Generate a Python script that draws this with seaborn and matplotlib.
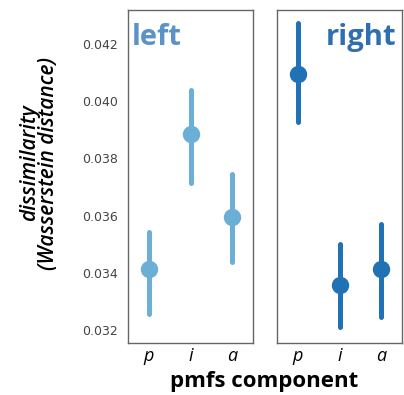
import matplotlib
matplotlib.use("Agg")
import matplotlib.pyplot as plt
import seaborn as sns
import pandas as pd

components = ["p", "i", "a"]
# (lower, center, upper) for each component
left_low = [0.03257, 0.03716, 0.03438]
left_mid = [0.03414, 0.03884, 0.03597]
left_high = [0.03543, 0.04041, 0.03746]
right_low = [0.03928, 0.03212, 0.03246]
right_mid = [0.04095, 0.03358, 0.03414]
right_high = [0.04273, 0.03501, 0.03571]

sns.set_style("white")
plt.rcParams["text.color"] = "black"

def make_df(low, mid, high):
    rows = []
    for c, l, m, h in zip(components, low, mid, high):
        for v in (l, m, h):
            rows.append({"component": c, "value": v})
    return pd.DataFrame(rows)

fig = plt.figure(figsize=(4.04, 3.95), dpi=100)
axL = fig.add_axes([128/404, 1-343/395, 125/404, 333/395])
axR = fig.add_axes([277/404, 1-343/395, 125/404, 333/395], sharey=axL)

specs = [(axL, make_df(left_low, left_mid, left_high), "#6baed6", "left", "#5b93c8"),
         (axR, make_df(right_low, right_mid, right_high), "#2171b5", "right", "#2f6fb0")]
for ax, df, col, title, tcol in specs:
    sns.pointplot(data=df, x="component", y="value", order=components,
                  estimator="median", errorbar=("pi", 100), color=col,
                  linestyle="none", markersize=10.5, err_kws={"linewidth": 3.6},
                  ax=ax)
    ax.set_xlabel("")
    ax.set_ylabel("")
    ax.set_xlim(-0.5, 2.5)
    for s in ax.spines.values():
        s.set_color("#666666")
        s.set_linewidth(1.0)
    ax.tick_params(axis="x", length=0, pad=3, labelcolor="black")
    ax.tick_params(axis="y", length=0)
    for t in ax.get_xticklabels():
        t.set_fontstyle("italic")
        t.set_fontfamily("Open Sans")
        t.set_fontsize(13)
    if title == "left":
        ax.text(0.03, 0.96, title, transform=ax.transAxes, ha="left", va="top",
                fontsize=21, fontweight="bold", color=tcol, family="Open Sans")
    else:
        ax.text(0.955, 0.96, title, transform=ax.transAxes, ha="right", va="top",
                fontsize=21, fontweight="bold", color=tcol, family="Open Sans")

axL.set_ylim(0.03155, 0.04319)
axL.set_yticks([0.032, 0.034, 0.036, 0.038, 0.040, 0.042])
axL.set_yticklabels(["0.032", "0.034", "0.036", "0.038", "0.040", "0.042"],
                    fontsize=9, color="#444444")
axL.tick_params(axis="y", pad=7)
axR.tick_params(axis="y", labelleft=False)

fig.text(39/404, 1 - 163/395, "dissimilarity\n(Wasserstein distance)",
         rotation=90, ha="center", va="center", fontsize=15, fontstyle="italic",
         fontweight="semibold", family="Open Sans", linespacing=0.92)
fig.text(264/404, 1 - 382/395, "pmfs component", ha="center", va="center",
         fontsize=16, fontweight="bold", family="Open Sans")

fig.savefig("out.png", dpi=100)
